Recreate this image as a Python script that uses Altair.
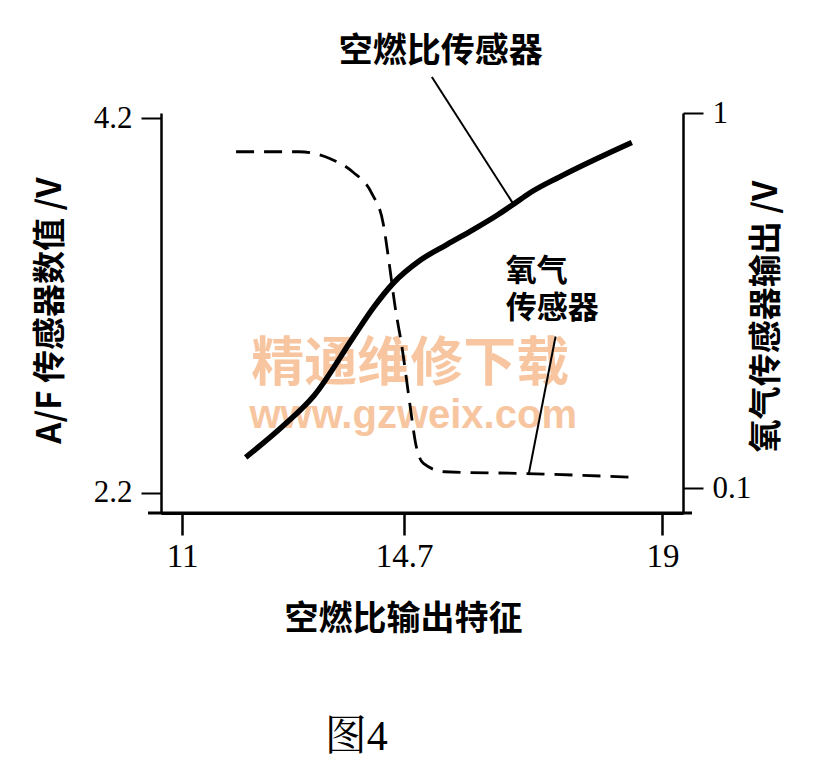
import altair as alt
import pandas as pd

# A/F sensor (solid, left axis)
af_x = [12.06, 12.69, 13.20, 13.85, 14.19, 14.52, 14.96, 15.41, 15.85, 16.24, 16.52, 16.79, 17.28, 18.49]
af_y = [2.39, 2.56, 2.72, 3.03, 3.19, 3.32, 3.44, 3.525, 3.605, 3.68, 3.74, 3.80, 3.885, 4.07]
# O2 sensor (dashed, right axis)
o2_x = [11.90, 12.95, 13.46, 13.84, 14.16, 14.35, 14.45, 14.54, 14.67, 14.80, 14.89, 15.02, 15.37, 16.64, 18.49]
o2_y = [0.907, 0.907, 0.891, 0.859, 0.807, 0.735, 0.639, 0.543, 0.431, 0.295, 0.207, 0.159, 0.139, 0.135, 0.126]

x_ticks = [11, 14.7, 19]
left_ticks = [2.2, 4.2]
right_ticks = [0.1, 1]

X_DOM = [10.65, 19.342]
L_DOM = [2.0933, 4.2267]
R_DOM = [0.04, 1.0]

# annotation labels (data coordinates on the A/F scale)
title_text = ["空燃比传感器"]
title_x = [15.31]
title_y = [4.552]
o2_label = ["氧气\n传感器"]
o2_label_x = [16.39]
o2_label_y = [3.459]

# leader lines
lead_x = [15.16, 17.22]
lead_y = [4.419, 3.035]
lead_x2 = [16.50, 16.77]
lead_y2 = [3.75, 2.296]

# extended x axis base line
base_x = [10.434]
base_x2 = [19.492]
base_y = [2.0933]

CJK = "Noto Sans CJK SC"
SERIF = "Liberation Serif"

xs = alt.Scale(domain=X_DOM, nice=False, zero=False)
ls = alt.Scale(domain=L_DOM, nice=False, zero=False)
rs = alt.Scale(domain=R_DOM, nice=False, zero=False)

xaxis = alt.Axis(values=x_ticks, format=".3~g", grid=False, domainWidth=3, domainColor="black",
                 tickColor="black", tickWidth=2.5, tickSize=22, labelFont=SERIF, labelFontSize=33,
                 labelColor="black", labelPadding=5, title="空燃比输出特征", titleFont=CJK,
                 titleFontSize=34, titleFontWeight="bold", titleColor="black",
                 titleX=242, titleY=106, titleBaseline="middle", titleAlign="center")


def X(field):
    return alt.X(field, scale=xs, axis=xaxis)


af_df = pd.DataFrame({"afr": af_x, "v": af_y})
o2_df = pd.DataFrame({"afr": o2_x, "v": o2_y})

# watermark
wm_df = pd.DataFrame({"t": ["精通维修下载", "www.gzweix.com"], "x": [14.80, 14.85], "y": [2.883, 2.611]})
wm1 = alt.Chart(wm_df.iloc[[0]]).mark_text(font=CJK, fontWeight="bold", fontSize=53, color="#F7C6A0",
                                            baseline="middle").encode(
    x=X("x:Q"), y=alt.Y("y:Q", scale=ls, axis=None), text="t:N")
wm2 = alt.Chart(wm_df.iloc[[1]]).mark_text(font="Liberation Sans", fontWeight="bold", fontSize=40,
                                            color="#F7C6A0", baseline="middle").encode(
    x=X("x:Q"), y=alt.Y("y:Q", scale=ls, axis=None), text="t:N")

solid = alt.Chart(af_df).mark_line(color="black", strokeWidth=5.5, interpolate="monotone",
                                   strokeCap="butt").encode(
    x=X("afr:Q"),
    y=alt.Y("v:Q", scale=ls,
            axis=alt.Axis(orient="left", values=left_ticks, format=".1f", grid=False, domainWidth=2.5,
                          domainColor="black", tickColor="black", tickWidth=2, tickSize=20,
                          labelFont=SERIF, labelFontSize=31, labelColor="black", labelPadding=9,
                          title="A/F 传感器数值 /V", titleFont=CJK, titleFontSize=33, titleFontWeight="bold",
                          titleColor="black", titleAngle=270, titleX=-111, titleY=197,
                          titleBaseline="middle", titleAlign="center")),
)

dashed = alt.Chart(o2_df).mark_line(color="black", strokeWidth=2.8, strokeDash=[18, 10],
                                    interpolate="monotone").encode(
    x=X("afr:Q"),
    y=alt.Y("v:Q", scale=rs,
            axis=alt.Axis(orient="right", values=right_ticks, format=".2~g", grid=False, domainWidth=2.5,
                          domainColor="black", tickColor="black", tickWidth=2, tickSize=20,
                          labelFont=SERIF, labelFontSize=31, labelColor="black", labelPadding=9,
                          title="氧气传感器输出 /V", titleFont=CJK, titleFontSize=33, titleFontWeight="bold",
                          titleColor="black", titleAngle=270, titleX=83, titleY=203,
                          titleBaseline="middle", titleAlign="center")),
)

lead_df = pd.DataFrame({"x": lead_x, "y": lead_y, "x2": lead_x2, "y2": lead_y2})
leads = alt.Chart(lead_df).mark_rule(color="black", strokeWidth=2).encode(
    x=X("x:Q"), y=alt.Y("y:Q", scale=ls, axis=None), x2="x2:Q", y2="y2:Q")

base_df = pd.DataFrame({"x": base_x, "x2": base_x2, "y": base_y})
base = alt.Chart(base_df).mark_rule(color="black", strokeWidth=3).encode(
    x=X("x:Q"), x2="x2:Q", y=alt.Y("y:Q", scale=ls, axis=None))

t_df = pd.DataFrame({"t": title_text, "x": title_x, "y": title_y})
lab_c = alt.Chart(t_df).mark_text(font=CJK, fontWeight="bold", fontSize=34, color="black",
                                  align="center", baseline="middle").encode(
    x=X("x:Q"), y=alt.Y("y:Q", scale=ls, axis=None), text="t:N")
o_df = pd.DataFrame({"t": o2_label, "x": o2_label_x, "y": o2_label_y})
lab_l = alt.Chart(o_df).mark_text(font=CJK, fontWeight="bold", fontSize=31, color="black",
                                  align="left", baseline="top", lineBreak="\n", lineHeight=37).encode(
    x=X("x:Q"), y=alt.Y("y:Q", scale=ls, axis=None), text="t:N")

cap_df = pd.DataFrame({"t": ["图4"], "x": [13.90], "y": [0.899]})
cap = alt.Chart(cap_df).mark_text(font=f"{SERIF}, Noto Serif CJK SC, {CJK}", fontSize=42, color="black",
                                  align="center", baseline="middle").encode(
    x=X("x:Q"), y=alt.Y("y:Q", scale=ls, axis=None), text="t:N")

chart = alt.layer(wm1, wm2, solid, dashed, leads, base, lab_c, lab_l, cap).resolve_scale(
    y="independent"
).properties(
    width=522, height=400,
    autosize=alt.AutoSizeParams(type="none"),
    padding={"left": 153, "top": 105, "right": 131, "bottom": 245},
    background="white",
).configure_view(stroke=None)

chart.save("out.html", embed_options={"renderer": "svg", "actions": False})
